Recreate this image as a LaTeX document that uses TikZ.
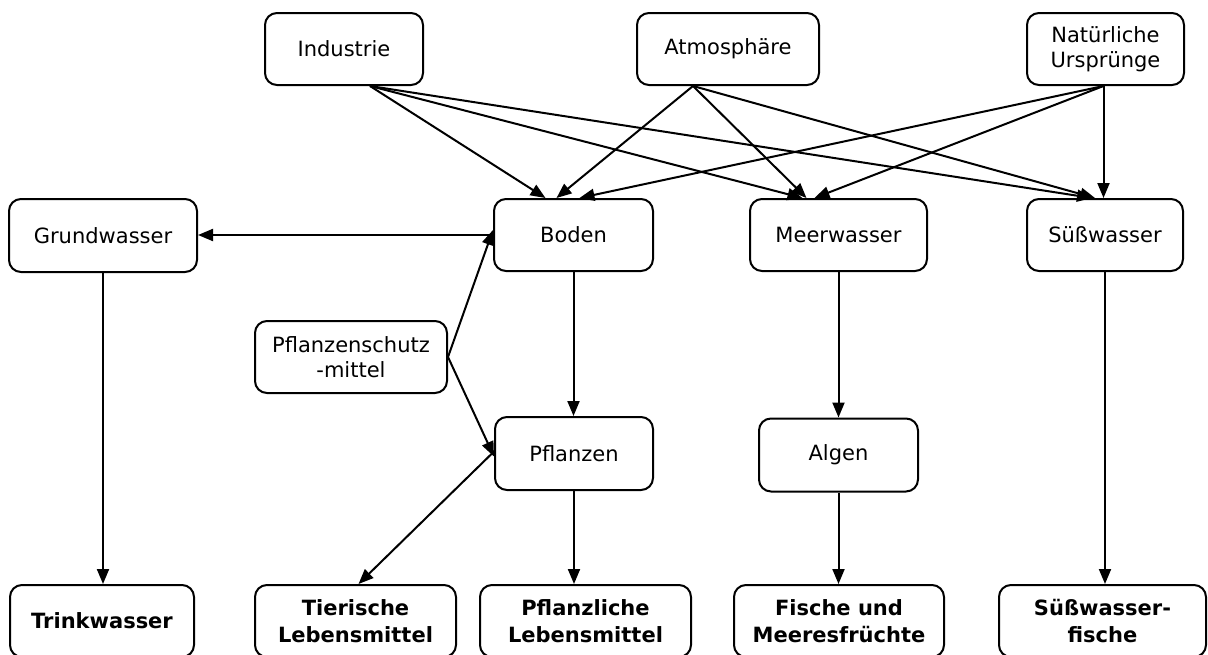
\documentclass[tikz,border=0pt]{standalone}
\usepackage{fontspec}
\setmainfont{DejaVu Sans}
\usetikzlibrary{arrows.meta,calc}
\tikzset{
  box/.style={draw, line width=2pt, rounded corners=12pt, rectangle, inner sep=0pt,
    align=center, font=\fontsize{21}{25}\selectfont},
  bbox/.style={box, font=\fontsize{21}{27}\selectfont\bfseries},
  arr/.style={line width=2pt, -{Triangle[length=15pt,width=12pt]}}
}
\begin{document}
\begin{tikzpicture}[x=1pt,y=-1pt]
\clip (0,0) rectangle (1208,654);
\fill[white] (0,0) rectangle (1208,654);
% top row
\node[box, minimum width=158pt, minimum height=72pt] (ind) at (344,49) {Industrie};
\node[box, minimum width=182pt, minimum height=72pt] (atm) at (728,49) {Atmosphäre};
\node[box, minimum width=157pt, minimum height=72pt] (nat) at (1105.5,49) {Natürliche\\Ursprünge};
% second row
\node[box, minimum width=188pt, minimum height=73pt] (gru) at (103,235.5) {Grundwasser};
\node[box, minimum width=159pt, minimum height=72pt] (bod) at (573.5,235) {Boden};
\node[box, minimum width=177pt, minimum height=72pt] (mee) at (838.5,235) {Meerwasser};
\node[box, minimum width=156pt, minimum height=72pt] (sue) at (1105,235) {Süßwasser};
% middle
\node[box, minimum width=192pt, minimum height=72pt] (psm) at (351,357) {Pflanzenschutz\\-mittel};
\node[box, minimum width=158pt, minimum height=73pt] (pfl) at (574,453.5) {Pflanzen};
\node[box, minimum width=159pt, minimum height=73pt] (alg) at (838.5,455) {Algen};
% bottom row
\node[bbox, minimum width=184pt, minimum height=72pt] (trk) at (102,621) {Trinkwasser};
\node[bbox, minimum width=201pt, minimum height=72pt] (tie) at (355.5,621) {Tierische\\Lebensmittel};
\node[bbox, minimum width=211pt, minimum height=72pt] (pfz) at (585.5,621) {Pflanzliche\\Lebensmittel};
\node[bbox, minimum width=210pt, minimum height=72pt] (fis) at (839,621) {Fische und\\Meeresfrüchte};
\node[bbox, minimum width=207pt, minimum height=72pt] (sfi) at (1102.5,621) {Süßwasser-\\fische};
% sources
\coordinate (indo) at ([xshift=26pt]ind.south);
\coordinate (atmo) at ([xshift=-35pt]atm.south);
\coordinate (nato) at ([xshift=-2pt]nat.south);
\draw[arr] (indo) -- ([xshift=-28pt]bod.north);
\draw[arr] (indo) -- ([xshift=-36pt]mee.north);
\draw[arr] (indo) -- ([xshift=-13pt]sue.north);
\draw[arr] (atmo) -- ([xshift=-17pt]bod.north);
\draw[arr] (atmo) -- ([xshift=-32pt]mee.north);
\draw[arr] (atmo) -- ([xshift=-10pt]sue.north);
\draw[arr] (nato) -- ([xshift=6pt]bod.north);
\draw[arr] (nato) -- ([xshift=-24pt]mee.north);
\draw[arr] (nato) -- (nato |- sue.north);
% middle connections
\draw[arr] (bod.west) -- (bod.west -| gru.east);
\draw[arr] (psm.east) -- ([yshift=5pt]bod.west);
\draw[arr] (psm.east) -- ([yshift=-3pt]pfl.west);
\draw[arr] (bod.south) -- (bod.south |- pfl.north);
\draw[arr] ([yshift=2pt]pfl.west) -- ([xshift=3pt]tie.north);
\draw[arr] (pfl.south) -- (pfl.south |- pfz.north);
\draw[arr] (gru.south) -- (gru.south |- trk.north);
\draw[arr] (mee.south) -- (mee.south |- alg.north);
\draw[arr] (alg.south) -- (alg.south |- fis.north);
\draw[arr] (sue.south) -- (sue.south |- sfi.north);
\end{tikzpicture}
\end{document}
